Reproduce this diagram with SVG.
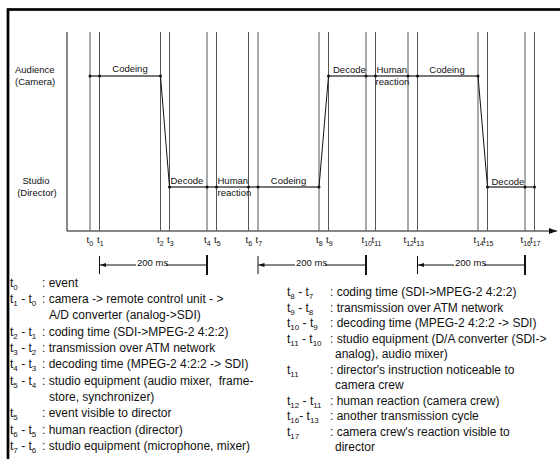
<svg xmlns="http://www.w3.org/2000/svg" width="560" height="459" viewBox="0 0 560 459">
<defs>
<style>
text{font-family:"Liberation Sans",Arial,sans-serif;fill:#111}
.lbl{font-size:9.5px}
.ax{font-size:9.5px}
.leg{font-size:12px}
.s{font-size:8px}
.sa{font-size:7px}
.tl{stroke:#555;stroke-width:1;fill:none}
.lvl{stroke:#777;stroke-width:2;fill:none}
.dg{stroke:#111;stroke-width:1;fill:none}
.dot{fill:#111}
</style>
<marker id="arrL" viewBox="0 0 6 6" refX="0" refY="3" markerWidth="6" markerHeight="6" orient="auto" markerUnits="userSpaceOnUse">
<path d="M6,1 L0,3 L6,5 Z" fill="#111"/>
</marker>
<marker id="arrR" viewBox="0 0 8 8" refX="8" refY="4" markerWidth="8" markerHeight="8" orient="auto" markerUnits="userSpaceOnUse">
<path d="M0,1 L8,4 L0,7 Z" fill="#111"/>
</marker>
</defs>
<rect x="0" y="0" width="560" height="459" fill="#fff"/>
<rect x="8" y="9.5" width="560" height="460" fill="none" stroke="#000" stroke-width="2.7"/>

<g id="lanes">
<text class="lbl" x="15" y="73">Audience</text>
<text class="lbl" x="15" y="85">(Camera)</text>
<text class="lbl" x="36" y="184" text-anchor="middle">Studio</text>
<text class="lbl" x="37" y="196" text-anchor="middle">(Director)</text>
</g>

<g id="axes">
<line x1="67" y1="32" x2="67" y2="231" stroke="#111" stroke-width="1"/>
<line x1="67" y1="231" x2="557" y2="231" stroke="#111" stroke-width="1" marker-end="url(#arrR)"/>
</g>

<g id="timelines">
<line class="tl" x1="90" y1="32" x2="90" y2="231"/>
<line class="tl" x1="99.5" y1="32" x2="99.5" y2="231"/>
<line class="tl" x1="160.5" y1="32" x2="160.5" y2="231"/>
<line class="tl" x1="169.5" y1="32" x2="169.5" y2="231"/>
<line class="tl" x1="207" y1="32" x2="207" y2="231"/>
<line class="tl" x1="216.5" y1="32" x2="216.5" y2="231"/>
<line class="tl" x1="248.5" y1="32" x2="248.5" y2="231"/>
<line class="tl" x1="258" y1="32" x2="258" y2="231"/>
<line class="tl" x1="319" y1="32" x2="319" y2="231"/>
<line class="tl" x1="328.5" y1="32" x2="328.5" y2="231"/>
<line class="tl" x1="366" y1="32" x2="366" y2="231"/>
<line class="tl" x1="375.5" y1="32" x2="375.5" y2="231"/>
<line class="tl" x1="408" y1="32" x2="408" y2="231"/>
<line class="tl" x1="417.5" y1="32" x2="417.5" y2="231"/>
<line class="tl" x1="478" y1="32" x2="478" y2="231"/>
<line class="tl" x1="487.5" y1="32" x2="487.5" y2="231"/>
<line class="tl" x1="525" y1="32" x2="525" y2="231"/>
<line class="tl" x1="534.5" y1="32" x2="534.5" y2="231"/>
</g>

<g id="connectors">
<line class="lvl" x1="90" y1="76" x2="160.5" y2="76"/>
<line class="lvl" x1="169.5" y1="187" x2="319" y2="187"/>
<line class="lvl" x1="328.5" y1="76" x2="478" y2="76"/>
<line class="lvl" x1="487.5" y1="187" x2="534.5" y2="187"/>
<line class="dg" x1="160.5" y1="76" x2="169.5" y2="187"/>
<line class="dg" x1="319" y1="187" x2="328.5" y2="76"/>
<line class="dg" x1="478" y1="76" x2="487.5" y2="187"/>
</g>

<g id="points">
<circle class="dot" cx="90" cy="76" r="1.5"/>
<circle class="dot" cx="99.5" cy="76" r="1.5"/>
<circle class="dot" cx="160.5" cy="76" r="1.5"/>
<circle class="dot" cx="169.5" cy="187" r="1.5"/>
<circle class="dot" cx="207" cy="187" r="1.5"/>
<circle class="dot" cx="216.5" cy="187" r="1.5"/>
<circle class="dot" cx="248.5" cy="187" r="1.5"/>
<circle class="dot" cx="258" cy="187" r="1.5"/>
<circle class="dot" cx="319" cy="187" r="1.5"/>
<circle class="dot" cx="328.5" cy="76" r="1.5"/>
<circle class="dot" cx="366" cy="76" r="1.5"/>
<circle class="dot" cx="375.5" cy="76" r="1.5"/>
<circle class="dot" cx="408" cy="76" r="1.5"/>
<circle class="dot" cx="417.5" cy="76" r="1.5"/>
<circle class="dot" cx="478" cy="76" r="1.5"/>
<circle class="dot" cx="487.5" cy="187" r="1.5"/>
<circle class="dot" cx="525" cy="187" r="1.5"/>
<circle class="dot" cx="534.5" cy="187" r="1.5"/>
</g>

<g id="phase-labels">
<text class="lbl" x="130" y="72" text-anchor="middle">Codeing</text>
<text class="lbl" x="170.5" y="184">Decode</text>
<text class="lbl" x="217.5" y="184">Human</text>
<text class="lbl" x="217.5" y="196">reaction</text>
<text class="lbl" x="288.5" y="184" text-anchor="middle">Codeing</text>
<text class="lbl" x="333" y="73">Decode</text>
<text class="lbl" x="376.5" y="73">Human</text>
<text class="lbl" x="375.5" y="85">reaction</text>
<text class="lbl" x="447" y="73" text-anchor="middle">Codeing</text>
<text class="lbl" x="491.5" y="185">Decode</text>
</g>

<g id="time-labels" class="ax">
<text class="ax" x="86.5" y="243">t<tspan class="sa" dy="2.5">0</tspan></text>
<text class="ax" x="97" y="243">t<tspan class="sa" dy="2.5">1</tspan></text>
<text class="ax" x="157" y="243">t<tspan class="sa" dy="2.5">2</tspan></text>
<text class="ax" x="167" y="243">t<tspan class="sa" dy="2.5">3</tspan></text>
<text class="ax" x="204" y="243">t<tspan class="sa" dy="2.5">4</tspan></text>
<text class="ax" x="214" y="243">t<tspan class="sa" dy="2.5">5</tspan></text>
<text class="ax" x="245.5" y="243">t<tspan class="sa" dy="2.5">6</tspan></text>
<text class="ax" x="255.5" y="243">t<tspan class="sa" dy="2.5">7</tspan></text>
<text class="ax" x="316" y="243">t<tspan class="sa" dy="2.5">8</tspan></text>
<text class="ax" x="326" y="243">t<tspan class="sa" dy="2.5">9</tspan></text>
<text class="ax" x="361.5" y="243">t<tspan class="sa" dy="2.5">10</tspan></text>
<text class="ax" x="371.5" y="243">t<tspan class="sa" dy="2.5">11</tspan></text>
<text class="ax" x="403.5" y="243">t<tspan class="sa" dy="2.5">12</tspan></text>
<text class="ax" x="413.5" y="243">t<tspan class="sa" dy="2.5">13</tspan></text>
<text class="ax" x="473.5" y="243">t<tspan class="sa" dy="2.5">14</tspan></text>
<text class="ax" x="483" y="243">t<tspan class="sa" dy="2.5">15</tspan></text>
<text class="ax" x="520.5" y="243">t<tspan class="sa" dy="2.5">16</tspan></text>
<text class="ax" x="530" y="243">t<tspan class="sa" dy="2.5">17</tspan></text>
</g>

<g id="dimensions">
<line x1="99.5" y1="256" x2="99.5" y2="274" stroke="#111" stroke-width="1"/>
<line x1="207" y1="255" x2="207" y2="275" stroke="#111" stroke-width="2"/>
<line x1="100" y1="265" x2="207" y2="265" stroke="#111" stroke-width="1" marker-start="url(#arrL)"/>
<rect x="136" y="257" width="30" height="9" fill="#fff"/>
<text class="lbl" x="137" y="266">200 ms</text>

<line x1="258" y1="256" x2="258" y2="274" stroke="#111" stroke-width="1"/>
<line x1="366" y1="255" x2="366" y2="275" stroke="#111" stroke-width="2"/>
<line x1="258.5" y1="265" x2="366" y2="265" stroke="#111" stroke-width="1" marker-start="url(#arrL)"/>
<rect x="295" y="257" width="30" height="9" fill="#fff"/>
<text class="lbl" x="296" y="266">200 ms</text>

<line x1="417.5" y1="256" x2="417.5" y2="274" stroke="#111" stroke-width="1"/>
<line x1="525" y1="255" x2="525" y2="275" stroke="#111" stroke-width="2"/>
<line x1="418" y1="265" x2="525" y2="265" stroke="#111" stroke-width="1" marker-start="url(#arrL)"/>
<rect x="454" y="257" width="30" height="9" fill="#fff"/>
<text class="lbl" x="455" y="266">200 ms</text>
</g>

<g id="legend-left" class="leg">
<text class="leg" x="10" y="287">t<tspan class="s" dy="3">0</tspan></text>
<text class="leg" x="42" y="287">: event</text>
<text class="leg" x="10" y="303">t<tspan class="s" dy="3">1</tspan><tspan dy="-3"> - t</tspan><tspan class="s" dy="3">0</tspan></text>
<text class="leg" x="42" y="303">: camera -&gt; remote control unit - &gt;</text>
<text class="leg" x="49" y="319">A/D converter (analog-&gt;SDI)</text>
<text class="leg" x="10" y="335.5">t<tspan class="s" dy="3">2</tspan><tspan dy="-3"> - t</tspan><tspan class="s" dy="3">1</tspan></text>
<text class="leg" x="42" y="335.5">: coding time (SDI-&gt;MPEG-2 4:2:2)</text>
<text class="leg" x="10" y="352">t<tspan class="s" dy="3">3</tspan><tspan dy="-3"> - t</tspan><tspan class="s" dy="3">2</tspan></text>
<text class="leg" x="42" y="352">: transmission over ATM network</text>
<text class="leg" x="10" y="368">t<tspan class="s" dy="3">4</tspan><tspan dy="-3"> - t</tspan><tspan class="s" dy="3">3</tspan></text>
<text class="leg" x="42" y="368">: decoding time (MPEG-2 4:2:2 -&gt; SDI)</text>
<text class="leg" x="10" y="384.5">t<tspan class="s" dy="3">5</tspan><tspan dy="-3"> - t</tspan><tspan class="s" dy="3">4</tspan></text>
<text class="leg" x="42" y="384.5" xml:space="preserve">: studio equipment (audio mixer,  frame-</text>
<text class="leg" x="49" y="401">store, synchronizer)</text>
<text class="leg" x="10" y="417">t<tspan class="s" dy="3">5</tspan></text>
<text class="leg" x="42" y="417">: event visible to director</text>
<text class="leg" x="10" y="433.5">t<tspan class="s" dy="3">6</tspan><tspan dy="-3"> - t</tspan><tspan class="s" dy="3">5</tspan></text>
<text class="leg" x="42" y="433.5">: human reaction (director)</text>
<text class="leg" x="10" y="450">t<tspan class="s" dy="3">7</tspan><tspan dy="-3"> - t</tspan><tspan class="s" dy="3">6</tspan></text>
<text class="leg" x="42" y="450">: studio equipment (microphone, mixer)</text>
</g>

<g id="legend-right" class="leg">
<text class="leg" x="287" y="296">t<tspan class="s" dy="3">8</tspan><tspan dy="-3"> - t</tspan><tspan class="s" dy="3">7</tspan></text>
<text class="leg" x="330" y="296">: coding time (SDI-&gt;MPEG-2 4:2:2)</text>
<text class="leg" x="287" y="311.5">t<tspan class="s" dy="3">9</tspan><tspan dy="-3"> - t</tspan><tspan class="s" dy="3">8</tspan></text>
<text class="leg" x="330" y="311.5">: transmission over ATM network</text>
<text class="leg" x="287" y="327">t<tspan class="s" dy="3">10</tspan><tspan dy="-3"> - t</tspan><tspan class="s" dy="3">9</tspan></text>
<text class="leg" x="330" y="327">: decoding time (MPEG-2 4:2:2 -&gt; SDI)</text>
<text class="leg" x="287" y="342.5">t<tspan class="s" dy="3">11</tspan><tspan dy="-3"> - t</tspan><tspan class="s" dy="3">10</tspan></text>
<text class="leg" x="330" y="342.5">: studio equipment (D/A converter (SDI-&gt;</text>
<text class="leg" x="335" y="358">analog), audio mixer)</text>
<text class="leg" x="287" y="373.5">t<tspan class="s" dy="3">11</tspan></text>
<text class="leg" x="330" y="373.5">: director's instruction noticeable to</text>
<text class="leg" x="335" y="389">camera crew</text>
<text class="leg" x="287" y="404.5">t<tspan class="s" dy="3">12</tspan><tspan dy="-3"> - t</tspan><tspan class="s" dy="3">11</tspan></text>
<text class="leg" x="330" y="404.5">: human reaction (camera crew)</text>
<text class="leg" x="287" y="420">t<tspan class="s" dy="3">16</tspan><tspan dy="-3">- t</tspan><tspan class="s" dy="3">13</tspan></text>
<text class="leg" x="330" y="420">: another transmission cycle</text>
<text class="leg" x="287" y="435.5">t<tspan class="s" dy="3">17</tspan></text>
<text class="leg" x="330" y="435.5">: camera crew's reaction visible to</text>
<text class="leg" x="335" y="451">director</text>
</g>
</svg>
